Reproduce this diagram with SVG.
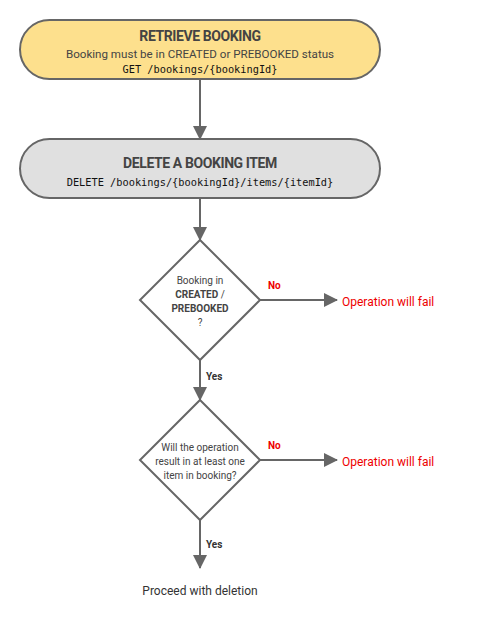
<svg xmlns="http://www.w3.org/2000/svg" width="478" height="619" viewBox="0 0 478 619">
<style>
.box{stroke:#666;stroke-width:2}
.dia{fill:#fff;stroke:#666;stroke-width:2}
.ln{stroke:#666;stroke-width:2;fill:none}
.ttl{font-family:Roboto,"Liberation Sans",sans-serif;font-weight:bold;font-size:14px;fill:#444;text-anchor:middle;letter-spacing:-0.4px}
.sub{font-family:Roboto,"Liberation Sans",sans-serif;font-size:11.6px;fill:#444;text-anchor:middle}
.mono{font-family:"DejaVu Sans Mono","Liberation Mono",monospace;font-size:10.3px;fill:#111;text-anchor:middle}
.dt{font-family:Roboto,"Liberation Sans",sans-serif;font-size:10px;fill:#444;text-anchor:middle}
.db{font-weight:bold}
.no{font-family:Roboto,"Liberation Sans",sans-serif;font-size:10px;font-weight:bold;fill:#e00}
.yes{font-family:Roboto,"Liberation Sans",sans-serif;font-size:10px;font-weight:bold;fill:#333}
.fail{font-family:Roboto,"Liberation Sans",sans-serif;font-size:12px;fill:#e00}
.end{font-family:Roboto,"Liberation Sans",sans-serif;font-size:12px;fill:#333;text-anchor:middle}
</style>
<defs>
<marker id="ah" markerWidth="14" markerHeight="14" viewBox="0 0 14 14" refX="13" refY="7" orient="auto" markerUnits="userSpaceOnUse">
<path d="M0,0 L14,7 L0,14 Z" fill="#666"/>
</marker>
</defs>
<rect width="478" height="619" fill="#fff"/>
<g id="connectors">
<line class="ln" x1="200" y1="80" x2="200" y2="139" marker-end="url(#ah)"/>
<line class="ln" x1="200" y1="198" x2="200" y2="240" marker-end="url(#ah)"/>
<line class="ln" x1="260" y1="300" x2="337" y2="300" marker-end="url(#ah)"/>
<line class="ln" x1="200" y1="360" x2="200" y2="400" marker-end="url(#ah)"/>
<line class="ln" x1="260" y1="460" x2="337" y2="460" marker-end="url(#ah)"/>
<line class="ln" x1="200" y1="520" x2="200" y2="568" marker-end="url(#ah)"/>
<text class="no" x="268" y="289">No</text>
<text class="yes" x="206" y="380">Yes</text>
<text class="no" x="268" y="449">No</text>
<text class="yes" x="206" y="548">Yes</text>
</g>
<g id="retrieve">
<rect class="box" x="20" y="20" width="360" height="59" rx="29.5" fill="#fde08d"/>
<text class="ttl" x="200" y="41">RETRIEVE BOOKING</text>
<text class="sub" x="200" y="58">Booking must be in CREATED or PREBOOKED status</text>
<text class="mono" x="200" y="73">GET /bookings/{bookingId}</text>
</g>
<g id="delete">
<rect class="box" x="20" y="139" width="360" height="59" rx="29.5" fill="#e0e0e0"/>
<text class="ttl" x="200" y="168">DELETE A BOOKING ITEM</text>
<text class="mono" x="200" y="186">DELETE /bookings/{bookingId}/items/{itemId}</text>
</g>
<g id="decision1">
<polygon class="dia" points="200,240 260,300 200,360 140,300"/>
<text class="dt" x="200" y="284">Booking in</text>
<text class="dt" x="200" y="298"><tspan class="db">CREATED</tspan> /</text>
<text class="dt db" x="200" y="312">PREBOOKED</text>
<text class="dt" x="200" y="326">?</text>
</g>
<g id="fail1">
<text class="fail" x="342" y="306">Operation will fail</text>
</g>
<g id="decision2">
<polygon class="dia" points="200,400 260,460 200,520 140,460"/>
<text class="dt" x="200" y="451">Will the operation</text>
<text class="dt" x="200" y="465">result in at least one</text>
<text class="dt" x="200" y="479">item in booking?</text>
</g>
<g id="fail2">
<text class="fail" x="342" y="466">Operation will fail</text>
</g>
<g id="proceed">
<text class="end" x="200" y="595">Proceed with deletion</text>
</g>
</svg>
